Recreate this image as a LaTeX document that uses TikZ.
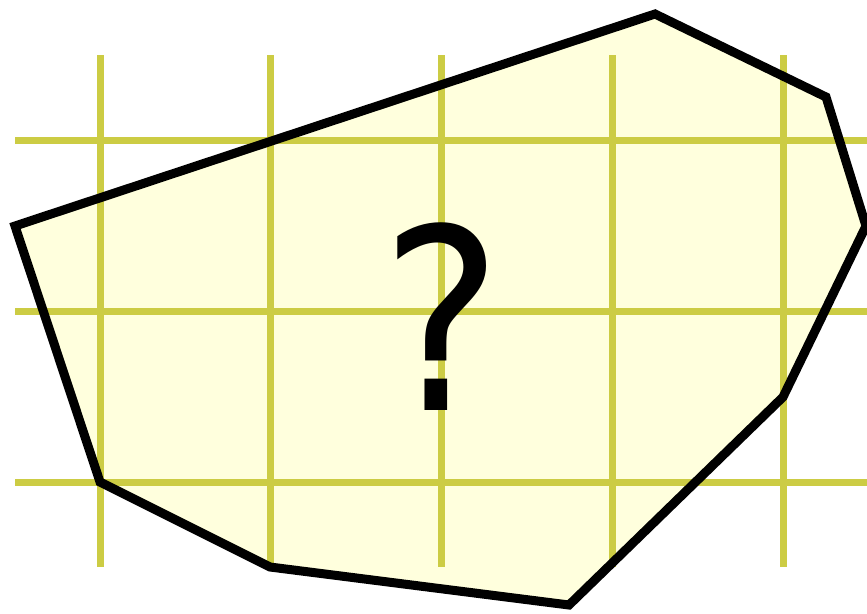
\documentclass[tikz,border=0pt]{standalone}
\usepackage{fontspec}
\setmainfont{DejaVu Sans Condensed}
\usepackage{xcolor}
\definecolor{gridyellow}{HTML}{CCCC44}
\definecolor{areafill}{HTML}{FFFFDD}
\begin{document}
\begin{tikzpicture}[x=1pt, y=-1pt, gridline/.style={draw=gridyellow, line width=7pt}, region/.style={draw=black, line width=9pt}, mark label/.style={inner sep=0pt, font=\fontsize{253}{253}\selectfont}]
\useasboundingbox (0,0) rectangle (867,613);
% area fill
\fill[areafill] (15,226) -- (655,14) -- (826,97) -- (866,226) -- (783,397) -- (569,605) -- (270,567) -- (100,482) -- cycle;
% grid
\foreach \gx in {100,270,441,612,783}
  \draw[gridline] (\gx,55) -- (\gx,567);
\foreach \gy in {140,311,482}
  \draw[gridline] (15,\gy) -- (867,\gy);
% outline
\draw[region] (15,226) -- (655,14) -- (826,97) -- (866,226) -- (783,397) -- (569,605) -- (270,567) -- (100,482) -- cycle;
\node[mark label] (qmark) at (442,317) {?};
\end{tikzpicture}
\end{document}
